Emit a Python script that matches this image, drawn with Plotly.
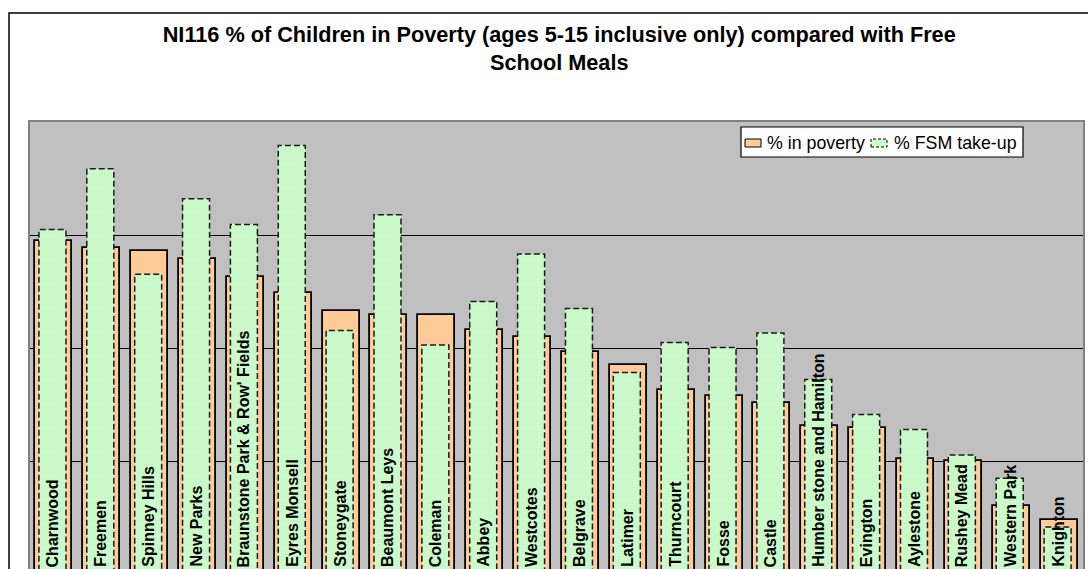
import plotly.graph_objects as go

wards = ["Charnwood", "Freemen", "Spinney Hills", "New Parks", "Braunstone Park & Row' Fields",
         "Eyres Monsell", "Stoneygate", "Beaumont Leys", "Coleman", "Abbey", "Westcotes",
         "Belgrave", "Latimer", "Thurncourt", "Fosse", "Castle", "Humber stone and Hamilton",
         "Evington", "Aylestone", "Rushey Mead", "Western Park", "Knighton"]
poverty = [39.45, 38.86, 38.60, 37.89, 36.34, 34.88, 33.34, 32.98, 32.92, 31.62, 31.04,
           29.72, 28.53, 26.28, 25.77, 25.18, 23.15, 22.97, 20.24, 20.01, 16.04, 14.85]
fsm = [40.49, 45.87, 36.54, 43.22, 40.95, 47.93, 31.57, 41.81, 30.30, 34.13, 38.33,
       33.51, 27.86, 30.51, 30.07, 31.36, 27.25, 24.16, 22.83, 20.57, 18.51, 14.21]
gridvals = [20, 30, 40, 50]
series_names = ["% in poverty", "% FSM take-up"]

FONT = "Arial, Liberation Sans, sans-serif"
ORANGE = "#FFCC99"
GREEN = "#CCFFCC"
idx = list(range(len(wards)))
W_OR = 0.773
W_GR = 0.564
GR_SHIFT = -0.031
gr_off = GR_SHIFT - W_GR / 2

# plot-area geometry (pixels) used to place the hand-made legend box
L, R, T, B = 30, 1083, 122, 569
def px(X):
    return (X - L) / (R - L)
def py(Y):
    return (B - Y) / (B - T)

fig = go.Figure()
fig.add_trace(go.Bar(
    x=idx, y=poverty, name=series_names[0], width=W_OR, showlegend=False,
    marker=dict(color=ORANGE, line=dict(color="#000000", width=1.8)),
))
fig.add_trace(go.Bar(
    x=idx, y=fsm, name=series_names[1], width=W_GR, offset=gr_off, showlegend=False,
    marker=dict(color=GREEN, line=dict(color=GREEN, width=0),
                pattern=dict(shape=".", fgcolor="#E2FFE2", bgcolor="#C6F9C6", size=3, solidity=0.3)),
))

# dashed outlines of FSM bars
ox, oy = [], []
for i, v in zip(idx, fsm):
    l = i + gr_off
    r = l + W_GR
    ox += [l, l, r, r, None]
    oy += [0, v, v, 0, None]
fig.add_trace(go.Scatter(
    x=ox, y=oy, mode="lines", showlegend=False, hoverinfo="skip",
    line=dict(color="#1a1a1a", width=1.5, dash="6px,3px"),
))

for i, w in zip(idx, wards):
    fig.add_annotation(
        x=i + GR_SHIFT, xref="x", y=0, yref="paper", yanchor="bottom", xanchor="center",
        text=w, textangle=-90, showarrow=False,
        font=dict(family=FONT, size=16, color="#000000", weight="bold"),
    )

# outer chart border
fig.add_shape(type="rect", xref="paper", yref="paper",
              x0=px(9), x1=px(1200), y0=py(700), y1=py(13),
              line=dict(color="#000000", width=1.5), layer="above")

# legend
fig.add_shape(type="rect", xref="paper", yref="paper",
              x0=px(741), x1=px(1023), y0=py(157), y1=py(127),
              fillcolor="#FFFFFF", line=dict(color="#000000", width=1.2), layer="above")
fig.add_shape(type="rect", xref="paper", yref="paper",
              x0=px(745), x1=px(761), y0=py(147), y1=py(139),
              fillcolor=ORANGE, line=dict(color="#000000", width=1), layer="above")
fig.add_shape(type="rect", xref="paper", yref="paper",
              x0=px(871), x1=px(887), y0=py(147), y1=py(139),
              fillcolor=GREEN, line=dict(color="#000000", width=1, dash="3px,2px"), layer="above")
for X, t in [(765, series_names[0]), (892, series_names[1])]:
    fig.add_annotation(x=px(X), xref="paper", y=py(142.5), yref="paper",
                       xanchor="left", yanchor="middle", text=t, showarrow=False,
                       font=dict(family=FONT, size=17.8, color="#000000"))

fig.update_layout(
    width=1088, height=569,
    margin=dict(l=L, r=1088 - R, t=T, b=0),
    paper_bgcolor="#FFFFFF", plot_bgcolor="#C0C0C0",
    barmode="overlay", bargap=0,
    title=dict(
        text="NI116 % of Children in Poverty (ages 5-15 inclusive only) compared with Free<br>School Meals",
        x=0.514, xanchor="center", xref="container",
        y=0.927, yanchor="top", yref="container",
        font=dict(family=FONT, size=21.7, color="#000000", weight="bold"),
    ),
    xaxis=dict(range=[-0.5, 21.5], showticklabels=False, showgrid=False, zeroline=False,
               showline=True, mirror=True, linecolor="#808080", linewidth=2, ticks=""),
    yaxis=dict(range=[10.5, 50], showticklabels=False, tickvals=gridvals, showgrid=True,
               gridcolor="#000000", gridwidth=1, zeroline=False,
               showline=True, mirror=True, linecolor="#808080", linewidth=2, ticks=""),
    showlegend=False,
)

fig.write_html("out.html")
